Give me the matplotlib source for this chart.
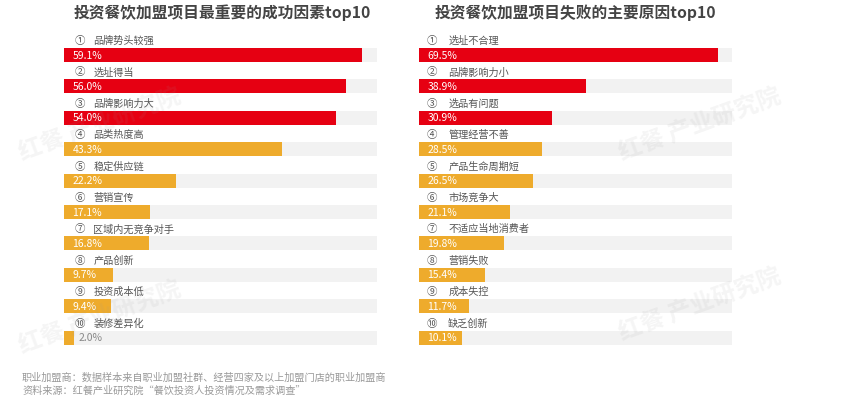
import matplotlib
matplotlib.use("Agg")
import matplotlib.pyplot as plt

plt.rcParams['font.family'] = ['Noto Sans CJK SC', 'DejaVu Sans']

W, H = 850, 401

left_title = "投资餐饮加盟项目最重要的成功因素top10"
left_labels = ["品牌势头较强", "选址得当", "品牌影响力大", "品类热度高", "稳定供应链",
               "营销宣传", "区域内无竞争对手", "产品创新", "投资成本低", "装修差异化"]
left_values = [59.1, 56.0, 54.0, 43.3, 22.2, 17.1, 16.8, 9.7, 9.4, 2.0]

right_title = "投资餐饮加盟项目失败的主要原因top10"
right_labels = ["选址不合理", "品牌影响力小", "选品有问题", "管理经营不善", "产品生命周期短",
                "市场竞争大", "不适应当地消费者", "营销失败", "成本失控", "缺乏创新"]
right_values = [69.5, 38.9, 30.9, 28.5, 26.5, 21.1, 19.8, 15.4, 11.7, 10.1]

numerals = ["①", "②", "③", "④", "⑤", "⑥", "⑦", "⑧", "⑨", "⑩"]
footer = ["职业加盟商：数据样本来自职业加盟社群、经营四家及以上加盟门店的职业加盟商",
          "资料来源：红餐产业研究院“餐饮投资人投资情况及需求调查”"]
watermark = "红餐 产业研究院"

RED = "#E60012"
ORANGE = "#EEAB2C"
BG = "#F2F2F2"

fig = plt.figure(figsize=(W / 100, H / 100), dpi=100)

def panel(x0, x1, xmax, labels, values, title, title_cx, num_off, txt_off):
    top, bot = 40, 345
    ax = fig.add_axes([x0 / W, 1 - bot / H, (x1 - x0) / W, (bot - top) / H])
    ax.patch.set_alpha(0)
    step = 31.4
    ax.set_xlim(0, xmax)
    ax.set_ylim((bot - 55) / step, (top - 55) / step)
    ax.axis("off")
    n = len(values)
    ys = list(range(n))
    h = 14 / step
    ax.barh(ys, [xmax] * n, height=h, color=BG, zorder=1)
    cols = [RED if i < 3 else ORANGE for i in range(n)]
    ax.barh(ys, values, height=h, color=cols, zorder=2)
    for i, (lab, v) in enumerate(zip(labels, values)):
        ly = i - 14 / step
        ax.annotate(numerals[i], xy=(0, ly), xytext=(num_off, 0), textcoords="offset points",
                    va="center", ha="left", fontsize=7.5, color="#555555")
        ax.annotate(lab, xy=(0, ly), xytext=(txt_off, 0), textcoords="offset points",
                    va="center", ha="left", fontsize=7.3, color="#555555")
        if v > 6:
            ax.annotate(f"{v:.1f}%", xy=(0, i), xytext=(6, -0.5), textcoords="offset points",
                        va="center", ha="left", fontsize=7.5, color="white", zorder=3)
        else:
            ax.annotate(f"{v:.1f}%", xy=(v, i), xytext=(3, -0.5), textcoords="offset points",
                        va="center", ha="left", fontsize=7.5, color="#888888", zorder=3)
    fig.text(title_cx / W, 1 - 13 / H, title, ha="center", va="center",
             fontsize=11.3, fontweight="bold", color="#444444")

panel(64, 377, 62.1, left_labels, left_values, left_title, 222, 7.5, 21)
panel(419, 732, 72.8, right_labels, right_values, right_title, 575, 5.8, 21)

# faint watermarks
for (wx, wy) in [(100, 125), (100, 318), (700, 125), (700, 305)]:
    fig.text(wx / W, 1 - wy / H, watermark, ha="center", va="center", rotation=20,
             fontsize=17, fontweight="bold", color="#999999", alpha=0.1, zorder=5)

fig.text(22 / W, 1 - 378 / H, footer[0], ha="left", va="center", fontsize=7.3, color="#999999")
fig.text(22 / W, 1 - 391 / H, footer[1], ha="left", va="center", fontsize=7.3, color="#999999")

fig.savefig("out.png", dpi=100, facecolor="white")
